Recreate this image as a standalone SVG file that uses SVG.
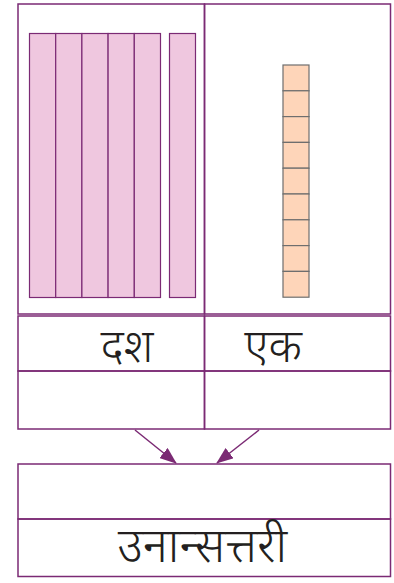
<svg xmlns="http://www.w3.org/2000/svg" width="394" height="583" viewBox="0 0 394 583">
<style>
.box{fill:none;stroke:#7b2a74;stroke-width:1.5}
.rod{fill:#efc7df;stroke:#7b2a74;stroke-width:1.2}
.cube{fill:#fed5b9;stroke:#6e6e6e;stroke-width:1.2}
.lbl{font-family:"Noto Sans","Noto Sans Devanagari","Lohit Devanagari",sans-serif;font-size:46px;font-weight:300;fill:#231f20;text-anchor:middle}
.big{font-size:48px}
.conn{fill:none;stroke:#7b2a74;stroke-width:1.5}
</style>
<defs>
<marker id="ah" markerWidth="17" markerHeight="13" refX="16" refY="6.5" orient="auto" markerUnits="userSpaceOnUse">
<path d="M0,0 L17,6.5 L0,13 z" fill="#7b2a74"/>
</marker>
</defs>
<rect width="394" height="583" fill="#fff"/>
<g id="tens-block">
<rect class="box" x="18" y="4" width="186.5" height="310"/>
<rect class="rod" x="29.5" y="33.5" width="26.2" height="264"/>
<rect class="rod" x="55.7" y="33.5" width="26.2" height="264"/>
<rect class="rod" x="81.9" y="33.5" width="26.2" height="264"/>
<rect class="rod" x="108.1" y="33.5" width="26.2" height="264"/>
<rect class="rod" x="134.3" y="33.5" width="26.2" height="264"/>
<rect class="rod" x="169.5" y="33.5" width="26" height="264"/>
</g>
<g id="ones-block">
<rect class="box" x="204.5" y="4" width="186" height="310"/>
<rect class="cube" x="283" y="65" width="26" height="25.8"/>
<rect class="cube" x="283" y="90.8" width="26" height="25.8"/>
<rect class="cube" x="283" y="116.6" width="26" height="25.8"/>
<rect class="cube" x="283" y="142.4" width="26" height="25.8"/>
<rect class="cube" x="283" y="168.2" width="26" height="25.8"/>
<rect class="cube" x="283" y="194" width="26" height="25.8"/>
<rect class="cube" x="283" y="219.8" width="26" height="25.8"/>
<rect class="cube" x="283" y="245.6" width="26" height="25.8"/>
<rect class="cube" x="283" y="271.4" width="26" height="25.8"/>
</g>
<g id="tens-label">
<rect class="box" x="18" y="316" width="186.5" height="55"/>
<text class="lbl" x="127" y="362">दश</text>
</g>
<g id="ones-label">
<rect class="box" x="204.5" y="316" width="186" height="55"/>
<text class="lbl" x="273" y="362">एक</text>
</g>
<g id="tens-answer">
<rect class="box" x="18" y="371" width="186.5" height="58"/>
</g>
<g id="ones-answer">
<rect class="box" x="204.5" y="371" width="186" height="58"/>
</g>
<g id="connectors">
<line class="conn" x1="135" y1="430" x2="176" y2="463" marker-end="url(#ah)"/>
<line class="conn" x1="259" y1="430" x2="217" y2="463" marker-end="url(#ah)"/>
</g>
<g id="total-number">
<rect class="box" x="18" y="464" width="372.5" height="55"/>
</g>
<g id="total-word">
<rect class="box" x="18" y="519" width="372.5" height="57.5"/>
<text class="lbl big" x="202.5" y="562">उनान्सत्तरी</text>
</g>
</svg>
